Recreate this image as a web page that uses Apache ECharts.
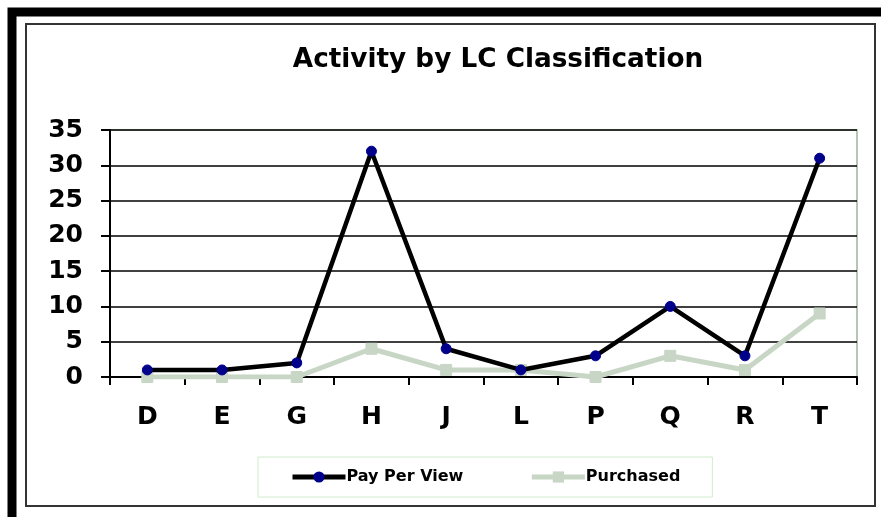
<!DOCTYPE html>
<html>
<head>
<meta charset="utf-8">
<script src="https://cdn.jsdelivr.net/npm/echarts@6/dist/echarts.min.js"></script>
<style>
  html, body { margin: 0; padding: 0; background: #fff; }
  #main { width: 881px; height: 517px; }
</style>
</head>
<body>
<div id="main"></div>
<script>
// categories (LC classes)
var classes = ['D', 'E', 'G', 'H', 'J', 'L', 'P', 'Q', 'R', 'T'];
var payPerView = [1, 1, 2, 32, 4, 1, 3, 10, 3, 31];
var purchased = [0, 0, 0, 4, 1, 1, 0, 3, 1, 9];
var yTicks = [0, 5, 10, 15, 20, 25, 30, 35];

var chart = echarts.init(document.getElementById('main'));
var font = 'DejaVu Sans, Verdana, sans-serif';

chart.setOption({
  animation: false,
  backgroundColor: '#fff',
  title: {
    text: 'Activity by LC Classification',
    left: 493, top: 42, textAlign: 'center',
    textStyle: { fontFamily: font, fontWeight: 'bold', fontSize: 26.3, color: '#000' }
  },
  graphic: [
    // outer thick frame + inner thin frame
    { type: 'rect', shape: { x: 12, y: 12, width: 880, height: 520 },
      style: { fill: 'none', stroke: '#000', lineWidth: 9 }, silent: true },
    { type: 'rect', shape: { x: 26, y: 24, width: 849, height: 482 },
      style: { fill: 'none', stroke: '#333', lineWidth: 2 }, silent: true },
    // plot area border (top/right)
    { type: 'polyline', shape: { points: [[110, 130], [857, 130], [857, 377]] },
      style: { fill: 'none', stroke: '#9ab59a', lineWidth: 1.5 }, silent: true }
  ],
  legend: {
    left: 258, top: 457,
    padding: [12, 32, 12, 32],
    itemGap: 66, itemWidth: 53, itemHeight: 14,
    borderColor: '#cfeccf', borderWidth: 1,
    textStyle: { fontFamily: font, fontWeight: 'bold', fontSize: 16, color: '#000', padding: [0, 0, 0, -4] },
    data: [
      { name: 'Pay Per View', lineStyle: { width: 5 } },
      { name: 'Purchased', lineStyle: { width: 5 } }
    ]
  },
  grid: { left: 110, right: 24, top: 130, bottom: 140 },
  xAxis: {
    type: 'category',
    data: classes,
    boundaryGap: true,
    axisLine: { lineStyle: { color: '#000', width: 2 } },
    axisTick: { show: true, length: 8, inside: false, lineStyle: { color: '#000', width: 2 } },
    axisLabel: { fontFamily: font, fontWeight: 'bold', fontSize: 25, color: '#000', margin: 28 }
  },
  yAxis: {
    type: 'value',
    min: 0, max: 35, interval: 5,
    axisLine: { show: true, lineStyle: { color: '#000', width: 2 } },
    axisTick: { show: true, length: 9, lineStyle: { color: '#000', width: 2 } },
    axisLabel: { fontFamily: font, fontWeight: 'bold', fontSize: 25, color: '#000', margin: 27,
      formatter: function (v) { return yTicks.indexOf(v) >= 0 ? String(v) : ''; } },
    splitLine: { show: true, lineStyle: { color: '#000', width: 1.5 } }
  },
  series: [
    {
      name: 'Purchased',
      type: 'line',
      data: purchased,
      z: 2,
      symbol: 'rect', symbolSize: 11,
      lineStyle: { color: '#c8d6c6', width: 5 },
      itemStyle: { color: '#c8d6c6', borderColor: '#c8d6c6' }
    },
    {
      name: 'Pay Per View',
      type: 'line',
      data: payPerView,
      z: 3,
      symbol: 'circle', symbolSize: 10,
      lineStyle: { color: '#000', width: 4.5 },
      itemStyle: { color: '#00008b', borderColor: '#00008b' }
    }
  ]
});
</script>
</body>
</html>
